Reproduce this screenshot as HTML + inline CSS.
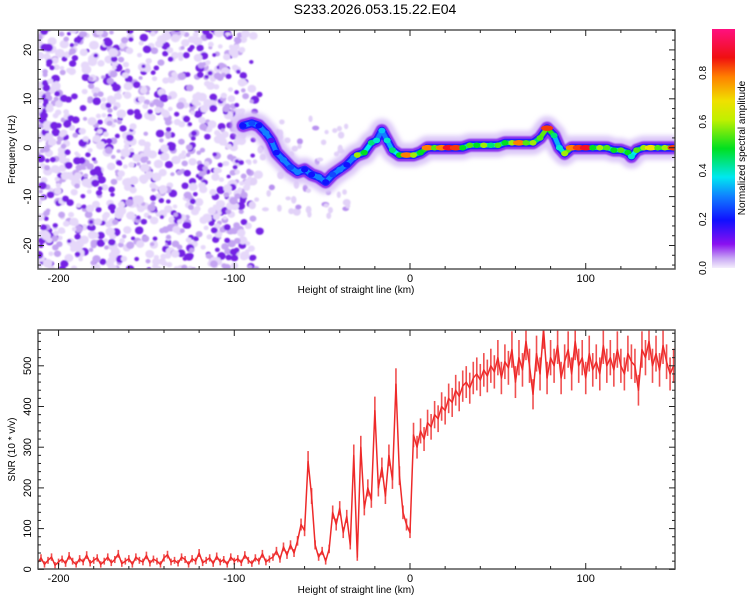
<!DOCTYPE html>
<html><head><meta charset="utf-8">
<style>
body{margin:0;background:#fff;}
svg{display:block;font-family:"Liberation Sans",sans-serif;}
</style></head>
<body>
<svg id="fig" width="750" height="600" viewBox="0 0 750 600">
<defs>
<filter id="blur1" x="-50%" y="-50%" width="200%" height="200%"><feGaussianBlur stdDeviation="0.9"/></filter>
<filter id="blur2" x="-50%" y="-50%" width="200%" height="200%"><feGaussianBlur stdDeviation="2.5"/></filter>
<clipPath id="clipTop"><rect x="38" y="30" width="637" height="239"/></clipPath>
<clipPath id="clipBot"><rect x="38" y="330" width="637" height="239"/></clipPath>
<linearGradient id="cmap" x1="0" y1="1" x2="0" y2="0">
<stop offset="0" stop-color="#f4eefc"/><stop offset="0.04" stop-color="#c8a8f4"/>
<stop offset="0.1" stop-color="#8a10f0"/><stop offset="0.2" stop-color="#1010ff"/>
<stop offset="0.3" stop-color="#1080ff"/><stop offset="0.38" stop-color="#00e8f0"/>
<stop offset="0.5" stop-color="#00e020"/><stop offset="0.62" stop-color="#c0f000"/>
<stop offset="0.7" stop-color="#f0e000"/><stop offset="0.8" stop-color="#ff8000"/>
<stop offset="0.88" stop-color="#f01010"/><stop offset="1" stop-color="#ff1080"/>
</linearGradient>
</defs>
<text x="375" y="14" text-anchor="middle" font-size="14">S233.2026.053.15.22.E04</text>
<g id="topPanel"></g>
<g id="botPanel"></g>
<g id="cbarPanel"></g>
</svg>
<script>
// ---- data ----
const trackKm = [-95,-90,-86,-82,-79,-76,-72,-68,-64,-60,-56,-52,-48,-44,-40,-36,-32,-30,-26,-22,-19,-16,-13,-10,-6,-2,2,6,10,14,18,22,26,30,34,38,42,46,50,54,58,62,66,70,74,78,82,85,88,92,96,100,104,108,112,116,120,124,126,129,133,137,141,145,150];
const trackHz = [4.5,5,4.5,3,1.5,-1,-2.5,-4,-5,-4.5,-5.5,-6,-7,-5.5,-4.5,-3.5,-2,-1.5,-1,1,1.5,3.5,1.5,-0.5,-1.5,-1.5,-1.5,-1,0,0,0,0,0,0,0.5,0.5,0.5,0.5,0.5,1,1,1,1,1,2,4,2.5,0,-1.2,0,0,0,0,0,0,-0.5,-0.5,-1,-1.8,-0.5,0,0,0,0,0];
const trackAmp = [0.2,0.25,0.2,0.3,0.15,0.2,0.3,0.25,0.3,0.2,0.2,0.3,0.2,0.25,0.3,0.2,0.3,0.6,0.5,0.45,0.4,0.35,0.4,0.45,0.5,0.8,0.6,0.5,0.8,0.55,0.8,0.9,0.85,0.5,0.55,0.5,0.6,0.45,0.55,0.5,0.6,0.8,0.55,0.6,0.55,0.85,0.45,0.4,0.6,0.8,0.85,0.9,0.5,0.6,0.55,0.5,0.55,0.5,0.4,0.55,0.6,0.7,0.55,0.6,0.85];
const snrStartKm = -212, snrStepKm = 2;
const snr = [15,28,12,22,30,10,18,25,14,33,20,12,26,18,35,15,22,28,12,20,30,16,24,38,14,20,26,12,30,22,18,34,15,25,20,12,28,36,18,22,15,30,24,12,26,20,40,16,22,28,14,32,18,24,12,30,20,26,16,35,22,14,28,20,38,18,25,
30,45,25,55,35,60,40,70,110,95,265,180,60,30,45,20,50,140,110,150,90,130,60,280,30,300,150,200,170,390,200,250,180,280,220,455,230,140,110,90,330,300,340,320,360,350,380,370,400,390,420,410,440,425,450,460,445,470,480,465,490,475,500,485,520,470,510,495,540,460,520,490,560,500,430,530,480,590,470,520,500,550,470,510,540,480,560,500,520,470,530,490,510,480,550,500,520,490,540,500,480,530,510,500,440,540,520,560,500,530,490,550,510,480,500];
const xTicks = [-200,-100,0,100];
const freqTicks = [-20,-10,0,10,20];
const snrTicks = [0,100,200,300,400,500];
const cbarTicks = [0.0,0.2,0.4,0.6,0.8];

// ---- scales ----
const X0=38,X1=675, KM0=-211.7, KM1=150.8;
const xs = v => X0 + (v-KM0)/(KM1-KM0)*(X1-X0);
const yTop = v => 147.7 - v*4.89;
const yBot = v => 569.3 - v*0.407;
const NS='http://www.w3.org/2000/svg';
function mk(tag, attrs, parent){const e=document.createElementNS(NS,tag);for(const k in attrs)e.setAttribute(k,attrs[k]);parent.appendChild(e);return e;}
function cmap(a){
  const st=[[0,[244,238,252]],[0.04,[200,168,244]],[0.1,[138,16,240]],[0.2,[16,16,255]],[0.3,[16,128,255]],[0.38,[0,232,240]],[0.5,[0,224,32]],[0.62,[192,240,0]],[0.7,[240,224,0]],[0.8,[255,128,0]],[0.88,[240,16,16]],[1,[255,16,128]]];
  for(let i=1;i<st.length;i++){if(a<=st[i][0]){const t=(a-st[i-1][0])/(st[i][0]-st[i-1][0]);const c=st[i-1][1].map((v,j)=>Math.round(v+(st[i][1][j]-v)*t));return `rgb(${c})`;}}
  return 'rgb(255,16,128)';
}
const topG=document.getElementById('topPanel'), botG=document.getElementById('botPanel'), cbG=document.getElementById('cbarPanel');

// ---- top noise texture (seeded) ----
let seed=12345; const rnd=()=>{seed=(seed*1103515245+12345)%2147483648;return seed/2147483648;};
const gTex = mk('g',{'clip-path':'url(#clipTop)',filter:'url(#blur1)'},topG);


for(let i=0;i<1300;i++){
  const km = KM0 + rnd()*130; const hz=-25+rnd()*50;
  const r=rnd(); let fill, rad;
  if(r<0.45){fill='#e6d8fa';rad=2+rnd()*2.5;} else if(r<0.72){fill='#c4a4f2';rad=1.8+rnd()*2;} else {fill='#7420e4';rad=1.8+rnd()*2.2;}
  const d=(km+98)/14; if(d>0 && rnd()<d) continue;
  mk('ellipse',{cx:xs(km),cy:yTop(hz),rx:rad*1.1,ry:rad,fill:fill},gTex);
}
for(let i=0;i<70;i++){
  const km=-95+rnd()*60, hz=-14+rnd()*20;
  mk('ellipse',{cx:xs(km),cy:yTop(hz),rx:2+rnd()*2,ry:2+rnd()*2,fill:rnd()<0.7?'#e2d2f8':'#b890f0'},gTex);
}

// ---- ridge ----
const gR = mk('g',{'clip-path':'url(#clipTop)'},topG);


const pts = trackKm.map((k,i)=>xs(k)+','+yTop(trackHz[i])).join(' ');
mk('polyline',{points:pts,fill:'none',stroke:'#dcc8f8',"stroke-width":24,"stroke-linejoin":'round',"stroke-linecap":'round',filter:'url(#blur2)'},gR);
mk('polyline',{points:pts,fill:'none',stroke:'#8a30ee',"stroke-width":13,"stroke-linejoin":'round',"stroke-linecap":'round',filter:'url(#blur1)'},gR);
mk('polyline',{points:pts,fill:'none',stroke:'#2020ff',"stroke-width":8,"stroke-linejoin":'round',"stroke-linecap":'round'},gR);
for(let i=0;i<trackKm.length-1;i++){
  const a=(trackAmp[i]+trackAmp[i+1])/2*0.8;
  const seg=mk('line',{x1:xs(trackKm[i]),y1:yTop(trackHz[i]),x2:xs(trackKm[i+1]),y2:yTop(trackHz[i+1]),stroke:cmap(Math.max(0.3,a)),"stroke-width":4.5,"stroke-linecap":'round'},gR);
  
  
}
trackKm.forEach((k,i)=>{
  const e=mk('ellipse',{cx:xs(k),cy:yTop(trackHz[i]),rx:trackAmp[i]>0.6?6:3.5,ry:2.8,fill:cmap(trackAmp[i])},gR);
  
  
});

// ---- axes helper ----
function drawFrame(g,y0,y1,yf,yMinorStep,yMin,yMax,yTicksArr,ylabel,ylx){
  const fr=mk('rect',{x:X0,y:y0,width:X1-X0,height:y1-y0,fill:'none',stroke:'#555',"stroke-width":1.5},g);
  
  
  for(let k=-200;k<=150;k+=20){
    const x=xs(k), L=(k%100===0)?6:3;
    mk('line',{x1:x,y1:y1,x2:x,y2:y1-L,stroke:'#222'},g);
    mk('line',{x1:x,y1:y0,x2:x,y2:y0+L,stroke:'#222'},g);
  }
  for(let v=Math.ceil(yMin/yMinorStep)*yMinorStep; v<=yMax; v+=yMinorStep){
    const y=yf(v), L=yTicksArr.includes(v)?6:3;
    mk('line',{x1:X0,y1:y,x2:X0+L,y2:y,stroke:'#222'},g);
    mk('line',{x1:X1,y1:y,x2:X1-L,y2:y,stroke:'#222'},g);
  }
  xTicks.forEach(k=>{const t=mk('text',{x:xs(k),y:y1+13,"text-anchor":'middle',"font-size":11},g);t.textContent=k;
    
    });
  yTicksArr.forEach(v=>{const y=yf(v);const t=mk('text',{x:31,y:y,"text-anchor":'middle',"font-size":11,transform:`rotate(-90 31 ${y})`},g);t.textContent=v;
    
    });
  const xl=mk('text',{x:356,y:y1+24,"text-anchor":'middle',"font-size":10},g);xl.textContent='Height of straight line (km)';
  
  
  const yc=(y0+y1)/2;
  const yl=mk('text',{x:ylx,y:yc,"text-anchor":'middle',"font-size":10,transform:`rotate(-90 ${ylx} ${yc})`},g);yl.textContent=ylabel;
  
  
}
drawFrame(topG,30,269,yTop,2,-24,24,freqTicks,'Frequency (Hz)',15);

// ---- SNR line ----
const gL=mk('g',{'clip-path':'url(#clipBot)'},botG);


snr.forEach((v,i)=>{
  const x=xs(snrStartKm+i*snrStepKm), s=7+0.07*v;
  const tk=mk('line',{x1:x,y1:yBot(v+s),x2:x,y2:yBot(Math.max(0,v-s)),stroke:'#f05050',"stroke-width":1.6},gL);
  
  
});
const lp=snr.map((v,i)=>xs(snrStartKm+i*snrStepKm)+','+yBot(v)).join(' ');
const snrLine=mk('polyline',{points:lp,fill:'none',stroke:'#ee2a2a',"stroke-width":1.5,"stroke-linejoin":'round'},gL);


drawFrame(botG,330,569,yBot,20,0,580,snrTicks,'SNR (10 * v/v)',15);

// ---- colorbar ----
const CB0=268, CB1=29;
const cbRect=mk('rect',{x:712,y:CB1,width:23,height:CB0-CB1,fill:'url(#cmap)'},cbG);


cbarTicks.forEach(v=>{const y=CB0-(v/0.98)*(CB0-CB1);const t=mk('text',{x:706,y:y,"text-anchor":'middle',"font-size":10,transform:`rotate(-90 706 ${y})`},cbG);t.textContent=v.toFixed(1);
  
  });
const ct=mk('text',{x:745,y:148,"text-anchor":'middle',"font-size":10,transform:'rotate(-90 745 148)'},cbG);ct.textContent='Normalized spectral amplitude';


</script>
</body></html>
